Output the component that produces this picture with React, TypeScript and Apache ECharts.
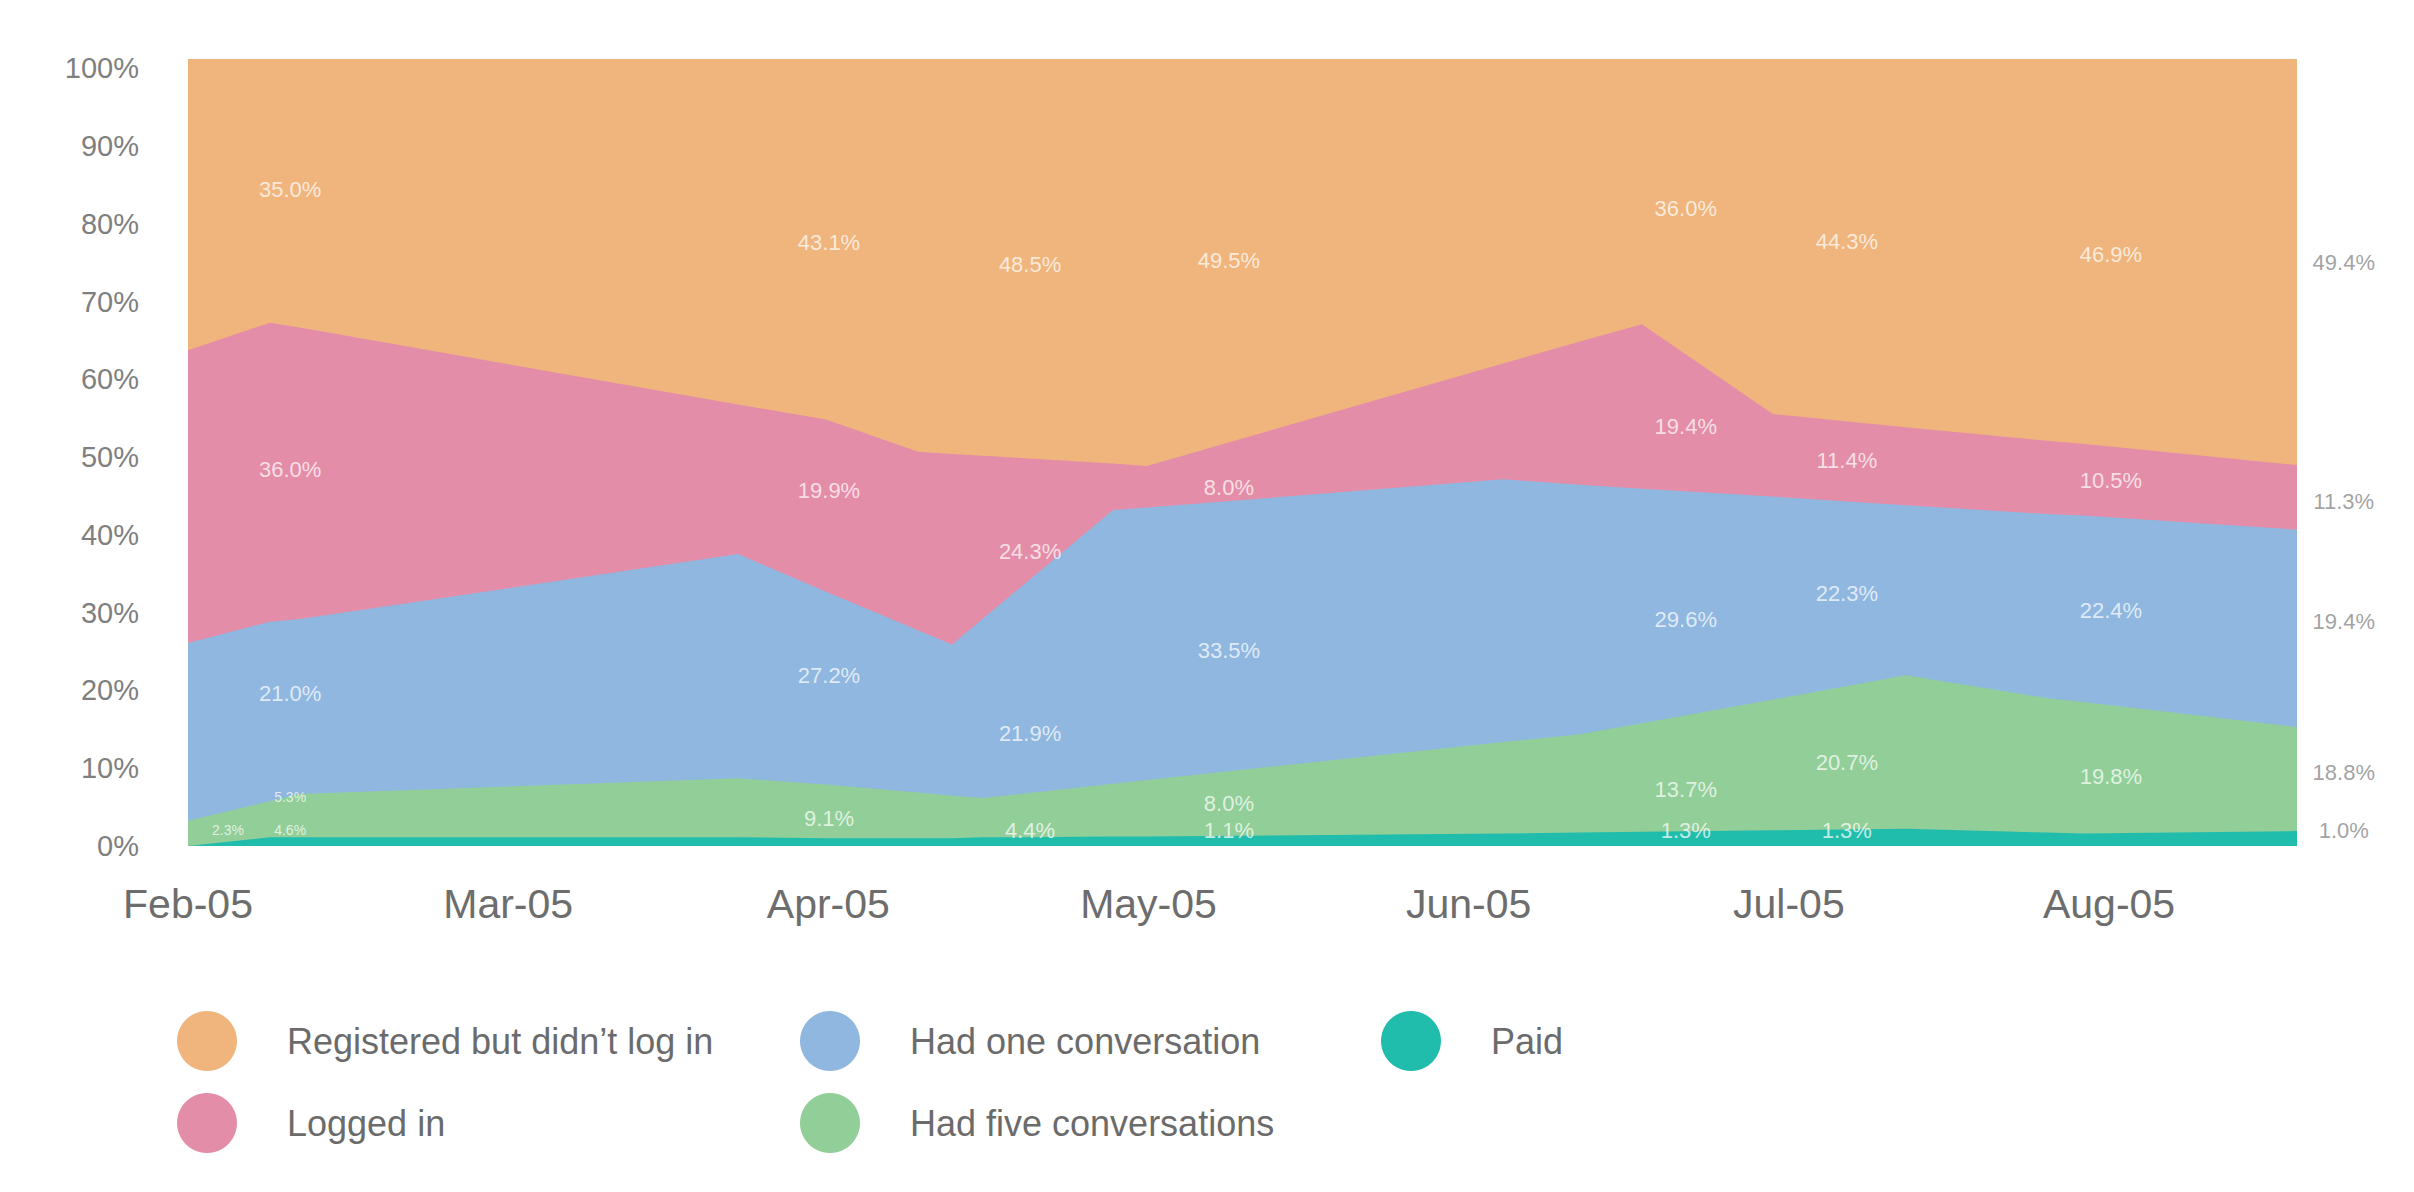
import React, { useEffect, useRef } from "react";
import * as echarts from "echarts";

// ---------- data ----------
const monthLabels = ["Feb-05", "Mar-05", "Apr-05", "May-05", "Jun-05", "Jul-05", "Aug-05"];
const xMax = 6.587; // end of the data, in months after Feb-05
const yTickMax = 101.2; // the tick labels of the reference sit on a slightly compressed scale

const nameRegistered = "Registered but didn’t log in";
const nameLoggedIn = "Logged in";
const nameOneConv = "Had one conversation";
const nameFiveConv = "Had five conversations";
const namePaid = "Paid";

// sample positions, months after Feb-05
const xPos = [0, 0.256, 0.344, 1.718, 1.993, 2.28, 2.386, 2.483, 2.889, 2.995, 4.107, 4.347, 4.541, 4.95, 5.365, 5.803, 5.918, 6.587];
const paid = [0.0, 1.1, 1.1, 1.1, 1.0, 1.0, 1.0, 1.1, 1.2, 1.2, 1.6, 1.7, 1.8, 2.0, 2.2, 1.7, 1.6, 1.9];
const fiveConv = [3.2, 4.6, 5.5, 7.5, 6.8, 5.8, 5.4, 5.0, 6.7, 7.2, 11.6, 12.5, 13.8, 16.6, 19.5, 17.1, 16.7, 13.2];
const oneConv = [22.6, 22.8, 22.2, 28.5, 24.5, 20.6, 19.2, 22.8, 34.8, 34.6, 33.4, 31.7, 29.8, 25.8, 21.6, 23.4, 23.7, 25.1];
const loggedIn = [37.2, 38.0, 37.1, 19.0, 21.9, 22.7, 24.2, 20.7, 5.9, 5.3, 14.7, 18.2, 20.9, 10.5, 9.9, 9.3, 9.1, 8.2];
const registered = [37.0, 33.5, 34.1, 43.9, 45.8, 49.9, 50.2, 50.4, 51.4, 51.7, 38.7, 35.9, 33.7, 45.1, 46.8, 48.5, 48.9, 51.6];

// value labels: columns (months after Feb-05) and the value shown per series (null = none)
const labelX = [0.125, 0.319, 2.002, 2.63, 3.251, 4.678, 5.181, 6.006, 6.733];
const labelRegistered = [null, 35.0, 43.1, 48.5, 49.5, 36.0, 44.3, 46.9, 49.4];
const labelLoggedIn = [null, 36.0, 19.9, 24.3, 8.0, 19.4, 11.4, 10.5, 11.3];
const labelOneConv = [null, 21.0, 27.2, 21.9, 33.5, 29.6, 22.3, 22.4, 19.4];
const labelFiveConv = [2.3, 5.3, 9.1, 4.4, 8.0, 13.7, 20.7, 19.8, 18.8];
const labelPaid = [null, 4.6, null, null, 1.1, 1.3, 1.3, null, 1.0];
const labelSmallCols = [true, true, false, false, false, false, false, false, false];
const labelOutsideCols = [false, false, false, false, false, false, false, false, true];

// ---------- styling ----------
const FONT = "'Liberation Sans', Arial, Helvetica, sans-serif";
const colors = {
  registered: "#EFB57D",
  loggedIn: "#E48DA8",
  oneConv: "#8FB7E0",
  fiveConv: "#91CE98",
  paid: "#21BDAC",
};

export default function App() {
  const ref = useRef<HTMLDivElement>(null);

  useEffect(() => {
    if (!ref.current) return;
    const chart = echarts.init(ref.current, undefined, { renderer: "svg" });

    // bottom-to-top stacking order
    const stackOrder = [
      { name: namePaid, vals: paid, color: colors.paid, labels: labelPaid },
      { name: nameFiveConv, vals: fiveConv, color: colors.fiveConv, labels: labelFiveConv },
      { name: nameOneConv, vals: oneConv, color: colors.oneConv, labels: labelOneConv },
      { name: nameLoggedIn, vals: loggedIn, color: colors.loggedIn, labels: labelLoggedIn },
      { name: nameRegistered, vals: registered, color: colors.registered, labels: labelRegistered },
    ];

    // cumulative tops (stacking on a value x-axis is done here)
    const cumulative: number[][] = [];
    stackOrder.forEach((s, si) => {
      cumulative.push(s.vals.map((v, i) => (si > 0 ? cumulative[si - 1][i] : 0) + v));
    });

    // draw the top band first, lower bands over it, each filled down to 0
    const areaSeries = stackOrder
      .map((s, si) => ({
        name: s.name,
        type: "line",
        symbol: "none",
        showSymbol: false,
        color: s.color,
        itemStyle: { color: s.color },
        lineStyle: { width: 0, color: s.color },
        areaStyle: { color: s.color, opacity: 1, origin: 0 },
        data: xPos.map((x, i) => [x, Math.min(cumulative[si][i], 100)]),
        silent: true,
        z: 2,
      }))
      .reverse();

    // labels placed in their band (stacked from label values)
    const labelData: any[] = [];
    labelX.forEach((x, c) => {
      let cum = 0;
      let prevPos = -Infinity;
      stackOrder.forEach((s, si) => {
        const v = s.labels[c];
        if (v === null || v === undefined) return;
        const small = labelSmallCols[c] && si <= 1;
        const minGap = small ? 1.8 : 3.4;
        const pos = Math.max(cum + v / 2, 3.0, prevPos + minGap);
        prevPos = pos;
        cum += v;
        const outside = labelOutsideCols[c];
        labelData.push({
          value: [x, pos],
          label: {
            show: true,
            position: "inside",
            offset: [0, 8],
            formatter: v.toFixed(1) + "%",
            fontSize: small ? 14 : 22,
            fontFamily: FONT,
            color: outside ? "#8a8a8a" : "rgba(255,255,255,0.92)",
          },
        });
      });
    });

    const legendBase = {
      orient: "vertical",
      top: 1011,
      itemWidth: 60,
      itemHeight: 60,
      itemGap: 22,
      icon: "circle",
      padding: 0,
      selectedMode: false,
      textStyle: {
        fontSize: 36,
        color: "#6b6b6b",
        fontFamily: FONT,
        padding: [0, 0, 0, 45],
      },
    };

    const hiddenAxisParts = {
      axisLine: { show: false },
      axisTick: { show: false },
      splitLine: { show: false },
    };

    chart.setOption({
      animation: false,
      backgroundColor: "#ffffff",
      grid: { left: 188, top: 59, width: 2109, height: 787, containLabel: false },
      xAxis: {
        type: "value",
        min: 0,
        max: xMax,
        interval: 1,
        ...hiddenAxisParts,
        axisLabel: {
          margin: 37,
          fontSize: 41,
          color: "#6d6d6d",
          fontFamily: FONT,
          showMaxLabel: false,
          formatter: (v: number) => {
            const r = Math.round(v);
            return Math.abs(v - r) < 1e-6 && monthLabels[r] ? monthLabels[r] : "";
          },
        },
      },
      yAxis: [
        {
          type: "value",
          min: 0,
          max: 100,
          interval: 10,
          ...hiddenAxisParts,
          axisLabel: { show: false },
        },
        {
          type: "value",
          position: "left",
          min: 0,
          max: yTickMax,
          interval: 10,
          ...hiddenAxisParts,
          axisLabel: {
            margin: 49,
            fontSize: 29,
            color: "#7f7f7f",
            fontFamily: FONT,
            showMaxLabel: false,
            formatter: (v: number) => {
              const r = Math.round(v);
              return Math.abs(v - r) < 1e-6 && r % 10 === 0 && r <= 100 ? r + "%" : "";
            },
          },
        },
      ],
      legend: [
        { ...legendBase, left: 177, data: [nameRegistered, nameLoggedIn] },
        { ...legendBase, left: 800, data: [nameOneConv, nameFiveConv] },
        { ...legendBase, left: 1381, data: [namePaid] },
      ],
      series: [
        ...areaSeries,
        {
          name: "labels",
          type: "scatter",
          symbol: "circle",
          symbolSize: 1,
          itemStyle: { color: "transparent" },
          clip: false,
          silent: true,
          z: 5,
          data: labelData,
        },
      ],
    });

    return () => {
      chart.dispose();
    };
  }, []);

  return (
    <div
      ref={ref}
      style={{ position: "absolute", left: 0, top: 0, width: 2414, height: 1192, background: "#fff" }}
    />
  );
}
